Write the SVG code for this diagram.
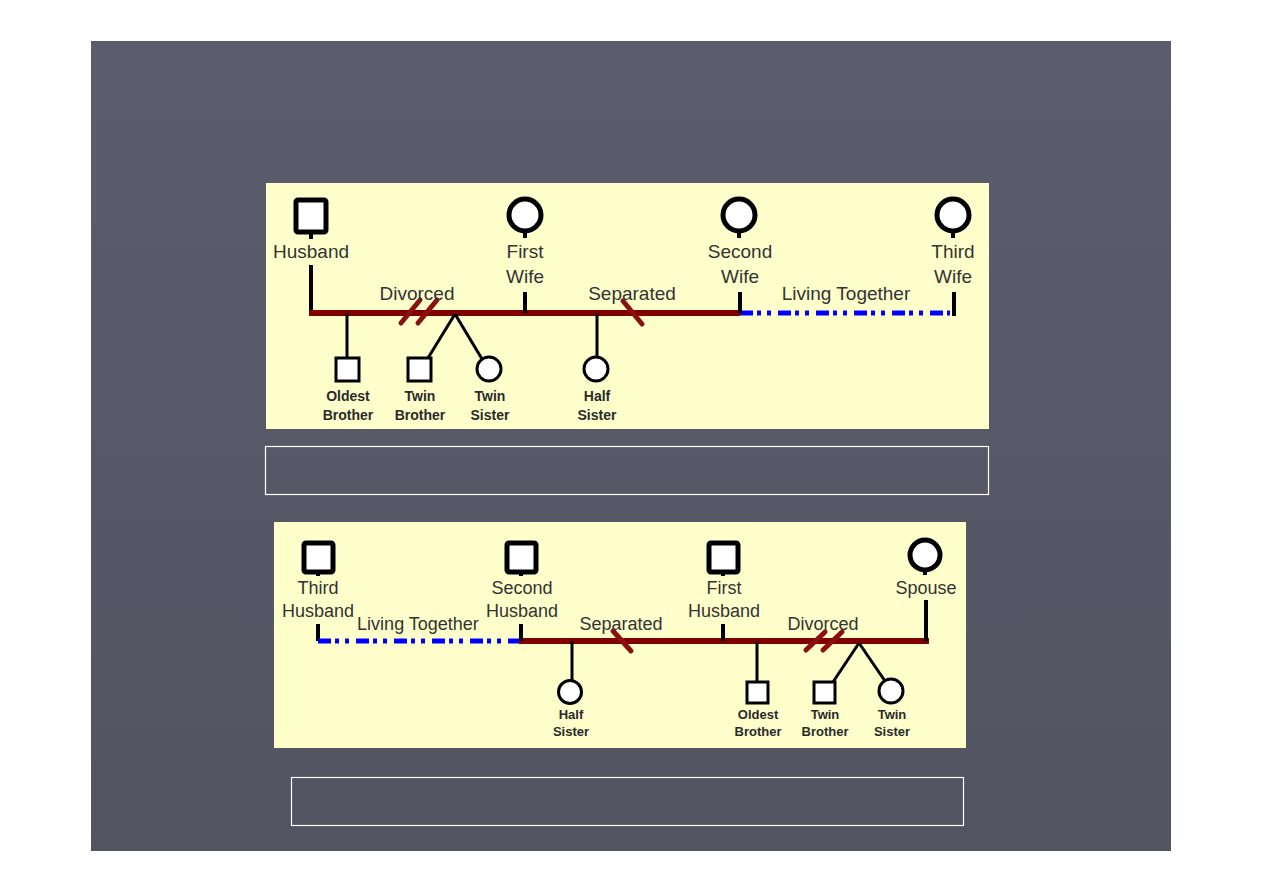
<svg xmlns="http://www.w3.org/2000/svg" width="1263" height="893" viewBox="0 0 1263 893">
<defs>
<linearGradient id="bg" x1="0" y1="0" x2="0" y2="1">
<stop offset="0" stop-color="#5c5d6c"/>
<stop offset="1" stop-color="#525462"/>
</linearGradient>
<style>
.panel{fill:#ffffcc}
.cap{fill:none;stroke:#ffffff;stroke-width:1.2}
.big{fill:#ffffff;stroke:#000000;stroke-width:5}
.kid{fill:#ffffff;stroke:#000000;stroke-width:3}
.stub{stroke:#000000;stroke-width:4;fill:none}
.cl{stroke:#000000;stroke-width:3;fill:none}
.rel{stroke:#800000;stroke-width:6;fill:none}
.slash{stroke:#8b1010;stroke-width:5;fill:none;stroke-linecap:round}
.lt{stroke:#0000ff;stroke-width:5;fill:none;stroke-dasharray:13 4 4 6 4 7}
.lbl{font-family:"Liberation Sans",Arial,sans-serif;font-size:19px;fill:#333333;text-anchor:middle}
.lbl2{font-family:"Liberation Sans",Arial,sans-serif;font-size:18px;fill:#333333;text-anchor:middle}
.sm{font-family:"Liberation Sans",Arial,sans-serif;font-size:14px;fill:#2a2a2a;text-anchor:middle;font-weight:bold}
.sm2{font-family:"Liberation Sans",Arial,sans-serif;font-size:13px;fill:#2a2a2a;text-anchor:middle;font-weight:bold}
</style>
</defs>
<rect x="0" y="0" width="1263" height="893" fill="#ffffff"/>
<rect x="91" y="41" width="1080" height="810" fill="url(#bg)"/>

<!-- Panel 1 -->
<rect class="panel" x="266" y="183" width="723" height="246"/>
<rect class="cap" x="265.5" y="446.5" width="723" height="48"/>

<g id="connectors1">
<line class="stub" x1="311" y1="265" x2="311" y2="313"/>
<line class="rel" x1="309" y1="313" x2="740" y2="313"/>
<line class="lt" x1="740" y1="313" x2="950" y2="313"/>
<line class="stub" x1="525" y1="292" x2="525" y2="313"/>
<line class="stub" x1="740" y1="292" x2="740" y2="313"/>
<line class="stub" x1="954" y1="292" x2="954" y2="316"/>
<line class="slash" x1="401" y1="323" x2="420" y2="300"/>
<line class="slash" x1="418" y1="323" x2="437" y2="300"/>
<line class="slash" x1="623" y1="301" x2="642" y2="324"/>
<line class="cl" x1="347" y1="313" x2="347" y2="358"/>
<line class="cl" x1="455" y1="314" x2="428" y2="358"/>
<line class="cl" x1="455" y1="314" x2="482" y2="359"/>
<line class="cl" x1="597" y1="313" x2="597" y2="356"/>
<text class="lbl" x="417" y="300">Divorced</text>
<text class="lbl" x="632" y="300">Separated</text>
<text class="lbl" x="846" y="300">Living Together</text>
</g>

<g id="husband1">
<rect class="big" x="296" y="200" width="30" height="32" rx="2"/>
<line class="stub" x1="311" y1="232" x2="311" y2="239"/>
<text class="lbl" x="311" y="258">Husband</text>
</g>
<g id="firstwife">
<circle class="big" cx="525" cy="215" r="16"/>
<line class="stub" x1="525" y1="231" x2="525" y2="238"/>
<text class="lbl" x="525" y="258">First</text>
<text class="lbl" x="525" y="283">Wife</text>
</g>
<g id="secondwife">
<circle class="big" cx="739" cy="215" r="16"/>
<line class="stub" x1="739" y1="231" x2="739" y2="238"/>
<text class="lbl" x="740" y="258">Second</text>
<text class="lbl" x="740" y="283">Wife</text>
</g>
<g id="thirdwife">
<circle class="big" cx="953" cy="215" r="16"/>
<line class="stub" x1="953" y1="231" x2="953" y2="238"/>
<text class="lbl" x="953" y="258">Third</text>
<text class="lbl" x="953" y="283">Wife</text>
</g>
<g id="oldest1">
<rect class="kid" x="336" y="358" width="23" height="23"/>
<text class="sm" x="348" y="401">Oldest</text>
<text class="sm" x="348" y="420">Brother</text>
</g>
<g id="twinbro1">
<rect class="kid" x="408" y="358" width="23" height="23"/>
<text class="sm" x="420" y="401">Twin</text>
<text class="sm" x="420" y="420">Brother</text>
</g>
<g id="twinsis1">
<circle class="kid" cx="489" cy="369" r="12"/>
<text class="sm" x="490" y="401">Twin</text>
<text class="sm" x="490" y="420">Sister</text>
</g>
<g id="halfsis1">
<circle class="kid" cx="596" cy="369" r="12"/>
<text class="sm" x="597" y="401">Half</text>
<text class="sm" x="597" y="420">Sister</text>
</g>

<!-- Panel 2 -->
<rect class="panel" x="274" y="522" width="692" height="226"/>
<rect class="cap" x="291.5" y="777.5" width="672" height="48"/>

<g id="connectors2">
<line class="stub" x1="318" y1="624" x2="318" y2="641"/>
<line class="lt" x1="318" y1="641" x2="519" y2="641"/>
<line class="rel" x1="519" y1="641" x2="929" y2="641"/>
<line class="stub" x1="521" y1="624" x2="521" y2="641"/>
<line class="stub" x1="723" y1="624" x2="723" y2="641"/>
<line class="stub" x1="926" y1="600" x2="926" y2="641"/>
<line class="slash" x1="613" y1="631" x2="631" y2="651"/>
<line class="slash" x1="806" y1="650" x2="825" y2="632"/>
<line class="slash" x1="823" y1="650" x2="842" y2="632"/>
<line class="cl" x1="572" y1="641" x2="572" y2="680"/>
<line class="cl" x1="757" y1="641" x2="757" y2="682"/>
<line class="cl" x1="859" y1="643" x2="833" y2="682"/>
<line class="cl" x1="859" y1="643" x2="885" y2="681"/>
<text class="lbl2" x="418" y="630">Living Together</text>
<text class="lbl2" x="621" y="630">Separated</text>
<text class="lbl2" x="823" y="630">Divorced</text>
</g>

<g id="thirdhusband">
<rect class="big" x="304" y="543" width="29" height="29" rx="2"/>
<line class="stub" x1="318" y1="572" x2="318" y2="576"/>
<text class="lbl2" x="318" y="594">Third</text>
<text class="lbl2" x="318" y="617">Husband</text>
</g>
<g id="secondhusband">
<rect class="big" x="507" y="543" width="29" height="29" rx="2"/>
<line class="stub" x1="521" y1="572" x2="521" y2="576"/>
<text class="lbl2" x="522" y="594">Second</text>
<text class="lbl2" x="522" y="617">Husband</text>
</g>
<g id="firsthusband">
<rect class="big" x="709" y="543" width="29" height="29" rx="2"/>
<line class="stub" x1="723" y1="572" x2="723" y2="576"/>
<text class="lbl2" x="724" y="594">First</text>
<text class="lbl2" x="724" y="617">Husband</text>
</g>
<g id="spouse">
<circle class="big" cx="925" cy="555" r="15"/>
<line class="stub" x1="925" y1="570" x2="925" y2="575"/>
<text class="lbl2" x="926" y="594">Spouse</text>
</g>
<g id="halfsis2">
<circle class="kid" cx="570" cy="692" r="11.5"/>
<text class="sm2" x="571" y="719">Half</text>
<text class="sm2" x="571" y="736">Sister</text>
</g>
<g id="oldest2">
<rect class="kid" x="747" y="682" width="21" height="21"/>
<text class="sm2" x="758" y="719">Oldest</text>
<text class="sm2" x="758" y="736">Brother</text>
</g>
<g id="twinbro2">
<rect class="kid" x="814" y="682" width="21" height="21"/>
<text class="sm2" x="825" y="719">Twin</text>
<text class="sm2" x="825" y="736">Brother</text>
</g>
<g id="twinsis2">
<circle class="kid" cx="891" cy="691" r="12"/>
<text class="sm2" x="892" y="719">Twin</text>
<text class="sm2" x="892" y="736">Sister</text>
</g>
</svg>
